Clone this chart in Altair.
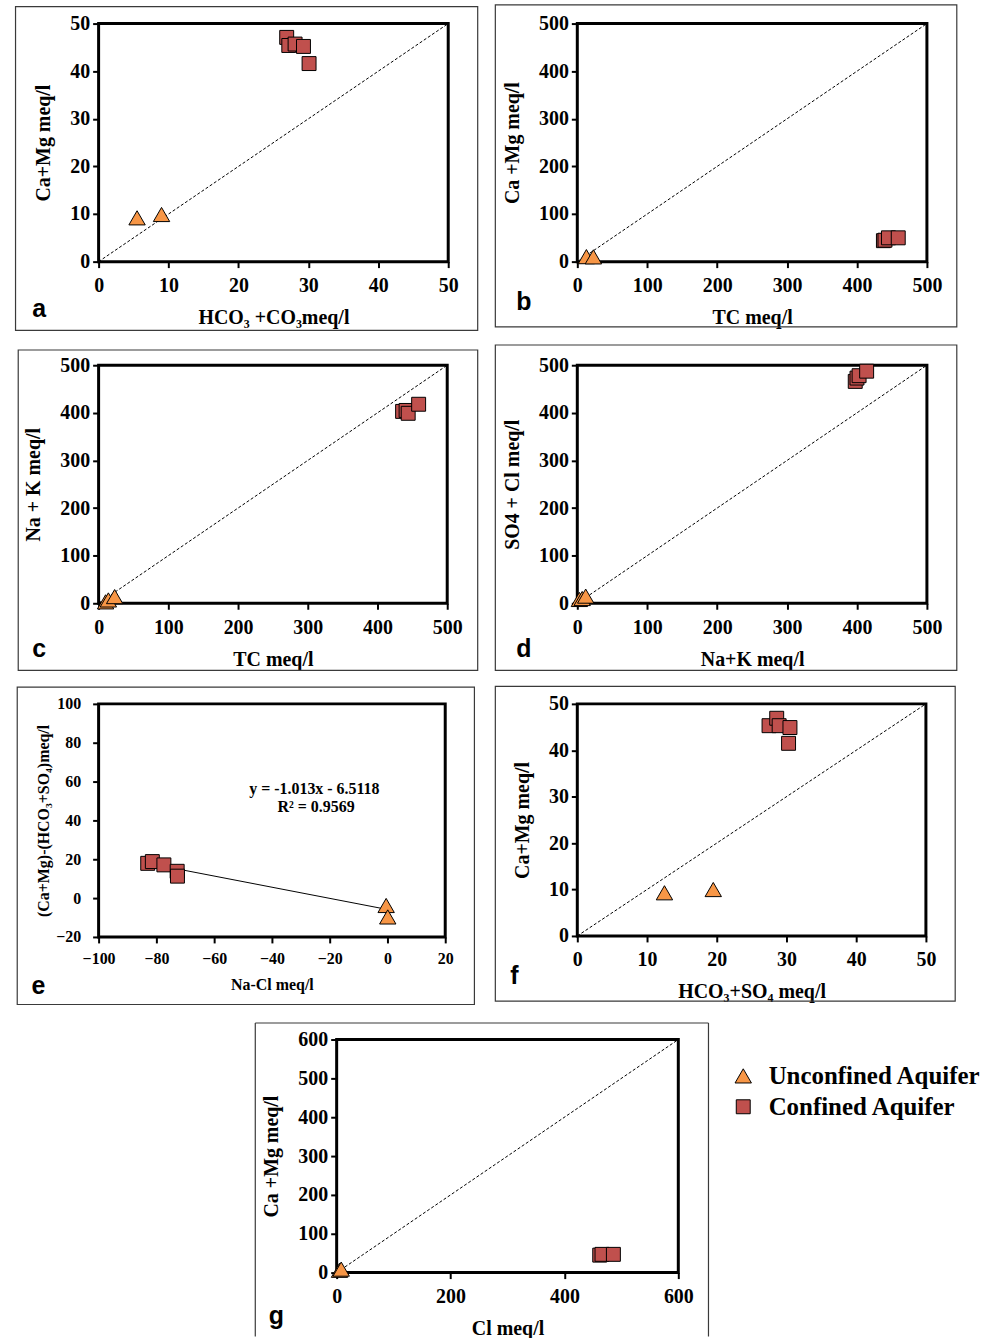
import altair as alt
import pandas as pd

SERIES = ["Unconfined Aquifer", "Confined Aquifer"]
COLORS = ["#F79646", "#C0504D"]
SHAPES = ["triangle-up", "square"]

# ---- panel data ----
a_tri_x = [5.5, 9.0]
a_tri_y = [9.2, 9.9]
a_sq_x = [26.9, 27.2, 28.1, 29.3, 30.1]
a_sq_y = [47.1, 45.4, 45.7, 45.2, 41.6]

b_tri_x = [13, 23]
b_tri_y = [10.5, 10]
b_sq_x = [437.8, 440, 445, 459]
b_sq_y = [44, 45, 50, 50]

c_tri_x = [10, 14, 23]
c_tri_y = [3, 7, 14]
c_sq_x = [436, 441, 444, 459]
c_sq_y = [403, 405, 399, 418]

d_tri_x = [3, 7, 12]
d_tri_y = [8, 10, 15]
d_sq_x = [397.5, 400, 403, 413.8]
d_sq_y = [466, 473, 478, 487.5]

e_tri_x = [-0.45, 0.1]
e_tri_y = [-3.8, -9.7]
e_sq_x = [-83.0, -81.4, -77.4, -72.8, -72.7]
e_sq_y = [17.9, 18.8, 17.1, 13.8, 11.3]
e_trend_x = [-82.8, -1.3]
e_trend_y = [17.9, -5.5]
e_eq_text = ["y = -1.013x - 6.5118", "R\u00b2 = 0.9569"]
e_eq_x = [-25.3, -24.7]
e_eq_y = [56.0, 46.7]

f_tri_x = [12.5, 19.5]
f_tri_y = [9.3, 10.0]
f_sq_x = [27.5, 28.6, 28.95, 30.5, 30.3]
f_sq_y = [45.3, 46.9, 45.3, 44.9, 41.5]

g_tri_x = [5, 8]
g_tri_y = [6, 9]
g_sq_x = [462, 466, 486]
g_sq_y = [45, 47, 47]

SERIF = "Liberation Serif"
SANS = "Liberation Sans"
FRAME = "#3a3a3a"
ONE = pd.DataFrame({"k": [0]})


def pts(tx, ty, sx, sy):
    grp = [SERIES[0]] * len(tx) + [SERIES[1]] * len(sx)
    return pd.DataFrame({
        "x": list(tx) + list(sx),
        "y": list(ty) + list(sy),
        "aquifer": grp,
        "marker": grp,
    })


def band_layer(band):
    # invisible layout band: fixes where this row sits on the page
    return alt.Chart(ONE).mark_rect(fill="transparent", strokeWidth=0).encode(
        x=alt.value(band[0]), y=alt.value(band[1]),
        x2=alt.value(band[2]), y2=alt.value(band[3]))


def rule(x, y, x2, y2):
    return alt.Chart(ONE).mark_rule(color=FRAME, strokeWidth=1.2).encode(
        x=alt.value(x), y=alt.value(y), x2=alt.value(x2), y2=alt.value(y2))


def panel(tx, ty, sx, sy, xdom, ydom, xvals, yvals, xtitle, ytitle, w, h,
          frame, letter, letter_xy, fs=20, tfs=20, xlp=8, ylp=3, xtp=12, ytp=16,
          diag=True, extra=None, legend=None, band=None, open_bottom=False):
    xenc = alt.X("x:Q", scale=alt.Scale(domain=xdom, nice=False, zero=False),
                 axis=alt.Axis(values=xvals, title=xtitle, labelFontSize=fs,
                               titleFontSize=tfs, labelPadding=xlp, titlePadding=xtp,
                               labelFlush=False, labelOverlap=False))
    yenc = alt.Y("y:Q", scale=alt.Scale(domain=ydom, nice=False, zero=False),
                 axis=alt.Axis(values=yvals, title=ytitle, labelFontSize=fs,
                               titleFontSize=tfs, labelPadding=ylp, titlePadding=ytp,
                               labelFlush=False, labelOverlap=False))
    layers = []
    if band is not None:
        layers.append(band_layer(band))
    if open_bottom:
        layers.append(rule(frame[0], frame[1], frame[0], frame[3]))
        layers.append(rule(frame[2], frame[1], frame[2], frame[3]))
        layers.append(rule(frame[0], frame[1], frame[2], frame[1]))
    else:
        layers.append(
            alt.Chart(ONE).mark_rect(fill="transparent", stroke=FRAME, strokeWidth=1.2)
            .encode(x=alt.value(frame[0]), y=alt.value(frame[1]),
                    x2=alt.value(frame[2]), y2=alt.value(frame[3]))
        )
    layers.append(
        alt.Chart(ONE).mark_text(align="left", baseline="alphabetic", font=SANS,
                                 fontWeight="bold", fontSize=25, color="black")
        .encode(x=alt.value(letter_xy[0]), y=alt.value(letter_xy[1]), text=alt.value(letter))
    )
    if diag:
        dd = pd.DataFrame({"x": [xdom[0], xdom[1]], "y": [ydom[0], ydom[1]]})
        layers.append(
            alt.Chart(dd).mark_line(color="black", strokeWidth=1, strokeDash=[3, 2])
            .encode(x=xenc, y=yenc)
        )
    if extra is not None:
        for ex in extra:
            layers.append(ex(xenc, yenc))
    if legend is None:
        color = alt.Color("aquifer:N", scale=alt.Scale(domain=SERIES, range=COLORS), legend=None)
        shape = alt.Shape("aquifer:N", scale=alt.Scale(domain=SERIES, range=SHAPES), legend=None)
    else:
        color = alt.Color("aquifer:N", scale=alt.Scale(domain=SERIES, range=COLORS), legend=legend)
        shape = alt.Shape("aquifer:N", scale=alt.Scale(domain=SERIES, range=SHAPES), legend=legend)
    layers.append(
        alt.Chart(pts(tx, ty, sx, sy)).mark_point(filled=True, opacity=1, stroke="black", strokeWidth=1)
        .encode(x=xenc, y=yenc, color=color, shape=shape,
                size=alt.Size("marker:N", scale=alt.Scale(domain=SERIES, range=[270, 196]), legend=None))
    )
    return alt.layer(*layers).properties(width=w, height=h)


def e_trend(xenc, yenc):
    return alt.Chart(pd.DataFrame({"x": e_trend_x, "y": e_trend_y})).mark_line(
        color="black", strokeWidth=1).encode(x=xenc, y=yenc)


def e_eq(xenc, yenc):
    return alt.Chart(pd.DataFrame({"x": e_eq_x, "y": e_eq_y, "t": e_eq_text})).mark_text(
        font=SERIF, fontWeight="bold", fontSize=16, color="black", baseline="middle"
    ).encode(x=xenc, y=yenc, text="t:N")


v50 = [0, 10, 20, 30, 40, 50]
v500 = [0, 100, 200, 300, 400, 500]

# row plot tops on the page: 23.7, 365.3, 704.2, 1039.3 ; plot lefts 96.7 / 577.3 / 335
pa = panel(a_tri_x, a_tri_y, a_sq_x, a_sq_y, [0, 50], [0, 50], v50, v50,
           "HCO\u2083 +CO\u2083meq/l", "Ca+Mg  meq/l", 351, 239,
           [-83.4, -17, 380.6, 308], "a", [-66.7, 294.6],
           band=[-96.7, -19.4, 908.3, 313.9])
pb = panel(b_tri_x, b_tri_y, b_sq_x, b_sq_y, [0, 500], [0, 500], v500, v500,
           "TC meq/l", "Ca +Mg meq/l", 351, 239,
           [-82.3, -18.7, 381, 304.6], "b", [-61.3, 288])
pc = panel(c_tri_x, c_tri_y, c_sq_x, c_sq_y, [0, 500], [0, 500], v500, v500,
           "TC meq/l", "Na + K meq/l", 350, 239,
           [-80.7, -15.3, 380.6, 306.4], "c", [-66.7, 293],
           band=[-96.7, -25.3, 908.3, 311.6])
pd_ = panel(d_tri_x, d_tri_y, d_sq_x, d_sq_y, [0, 500], [0, 500], v500, v500,
            "Na+K meq/l", "SO4 + Cl meq/l", 351, 239,
            [-82.3, -20.3, 381, 306.4], "d", [-61.3, 293])
pe = panel(e_tri_x, e_tri_y, e_sq_x, e_sq_y, [-100, 20], [-20, 100],
           [-100, -80, -60, -40, -20, 0, 20], [-20, 0, 20, 40, 60, 80, 100],
           "Na-Cl meq/l", "(Ca+Mg)-(HCO\u2083+SO\u2084)meq/l", 348, 234,
           [-81.7, -16.9, 377.3, 301.8], "e", [-67.4, 290.8],
           fs=16, tfs=16, xlp=8, ylp=12, xtp=10, ytp=4, diag=False, extra=[e_trend, e_eq],
           band=[-96.7, -24.2, 908.3, 305.9])
pf = panel(f_tri_x, f_tri_y, f_sq_x, f_sq_y, [0, 50], [0, 50], v50, v50,
           "HCO\u2083+SO\u2084  meq/l", "Ca+Mg meq/l", 350, 233,
           [-82.3, -17.5, 379.4, 298.5], "f", [-67.3, 280.8])
legend = alt.Legend(title=None, orient="none", legendX=395.7, legendY=24, padding=0,
                    symbolSize=520, symbolStrokeColor="black", symbolStrokeWidth=1,
                    labelFont=SERIF, labelFontSize=25, labelFontWeight="bold",
                    labelColor="black", labelOffset=13, rowPadding=5, labelLimit=400)
pg = panel(g_tri_x, g_tri_y, g_sq_x, g_sq_y, [0, 600], [0, 600], [0, 200, 400, 600],
           [0, 100, 200, 300, 400, 500, 600], "Cl meq/l", "Ca +Mg meq/l", 343, 234,
           [-81.7, -16.6, 373.3, 298.2], "g", [-68.3, 285.7], legend=legend,
           open_bottom=True)

spacer = alt.layer(band_layer([-96.7, -27.3, 908.3, 298.7])).properties(
    width=218.3, height=10, view=alt.ViewBackground(stroke="transparent"))

res = dict(color="independent", shape="independent", size="independent")
row1 = alt.hconcat(pa, pb, spacing=129.6, bounds="flush").resolve_scale(**res)
row2 = alt.hconcat(pc, pd_, spacing=130.6, bounds="flush").resolve_scale(**res)
row3 = alt.hconcat(pe, pf, spacing=132.6, bounds="flush").resolve_scale(**res)
row4 = alt.hconcat(spacer, pg, spacing=20, bounds="flush").resolve_scale(**res)

chart = alt.vconcat(row1, row2, row3, row4, spacing=0).resolve_scale(**res).properties(
    padding=0,
    background="white",
).configure_view(stroke="black", strokeWidth=3).configure_axis(
    labelFont=SERIF, labelFontWeight="bold", labelColor="black",
    titleFont=SERIF, titleFontWeight="bold", titleColor="black",
    tickColor="black", tickWidth=2, tickSize=6, grid=False, domain=False,
)

chart.save("out.html", embed_options={"renderer": "svg", "actions": False})
